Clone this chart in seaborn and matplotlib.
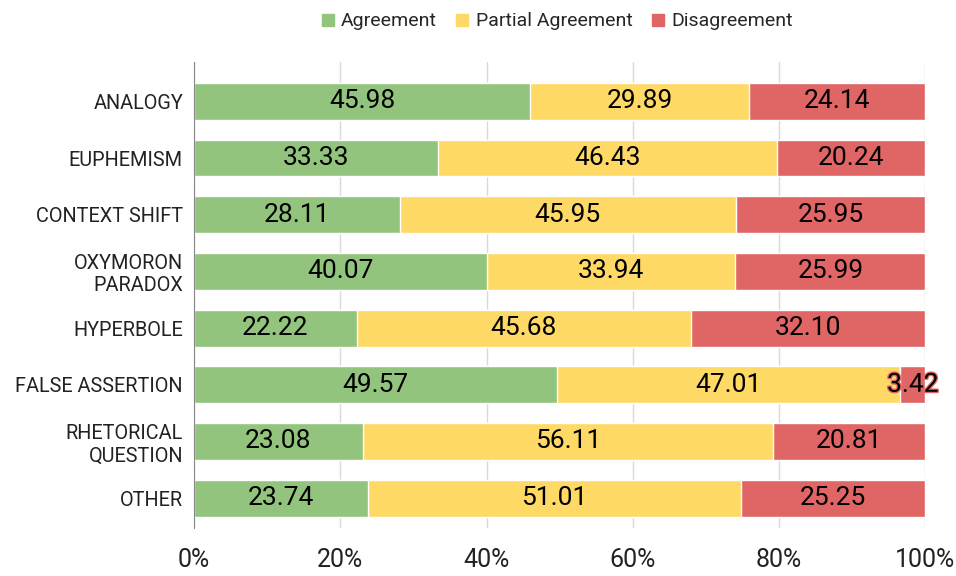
import numpy as np
import seaborn as sns
import matplotlib.pyplot as plt
import matplotlib.patheffects as pe
from matplotlib.lines import Line2D

categories = ['ANALOGY', 'EUPHEMISM', 'CONTEXT SHIFT', 'OXYMORON\nPARADOX', 'HYPERBOLE',
              'FALSE ASSERTION', 'RHETORICAL\nQUESTION', 'OTHER']
agreement = [45.98, 33.33, 28.11, 40.07, 22.22, 49.57, 23.08, 23.74]
partial = [29.89, 46.43, 45.95, 33.94, 45.68, 47.01, 56.11, 51.01]
disagreement = [24.14, 20.24, 25.95, 25.99, 32.10, 3.42, 20.81, 25.25]

series = ['Agreement', 'Partial Agreement', 'Disagreement']
colors = ['#93c47d', '#ffd966', '#e06666']

sns.set_style('white')
plt.rcParams['font.family'] = ['Roboto', 'DejaVu Sans']

a = np.array(agreement)
p = np.array(partial)
d = np.array(disagreement)
total = a + p + d

fig = plt.figure(figsize=(9.56, 5.76), dpi=100)
ax = fig.add_axes([0.203, 0.083, 0.765, 0.809])

# stacked bars: draw cumulative sums from the back
sns.barplot(x=total, y=categories, orient='h', color=colors[2], width=0.65, ax=ax, saturation=1)
sns.barplot(x=a + p, y=categories, orient='h', color=colors[1], width=0.65, ax=ax, saturation=1)
sns.barplot(x=a, y=categories, orient='h', color=colors[0], width=0.65, ax=ax, saturation=1)

for i in range(len(categories)):
    starts = [0, a[i], a[i] + p[i]]
    vals = [a[i], p[i], d[i]]
    for s, v, c in zip(starts, vals, colors):
        txt = ax.text(s + v / 2, i, f'{v:.2f}', ha='center', va='center',
                      fontsize=19, color='black')
        if v < 8:
            txt.set_path_effects([pe.withStroke(linewidth=2, foreground=c)])

ax.set_xlim(0, 100)
ax.set_ylim(7.53, -0.69)
ax.set_xticks([0, 20, 40, 60, 80, 100])
ax.set_xticklabels(['0%', '20%', '40%', '60%', '80%', '100%'])
ax.xaxis.grid(True, color='#d9d9d9', linewidth=1)
ax.set_axisbelow(True)
for s in ['top', 'right', 'bottom']:
    ax.spines[s].set_visible(False)
ax.spines['left'].set_color('#888888')
ax.tick_params(axis='x', length=0, pad=14, labelsize=18, colors='#222222')
ax.tick_params(axis='y', length=0, pad=8, labelsize=14.3, colors='#222222')
ax.set_xlabel('')
ax.set_ylabel('')

handles = [Line2D([], [], marker='s', linestyle='', color=c, markersize=8.5) for c in colors]
fig.legend(handles, series, loc='center', bbox_to_anchor=(0.582, 0.963), ncol=3,
           frameon=False, fontsize=14, handlelength=0.8, handletextpad=0.3, columnspacing=0.9)

fig.savefig('out.png', dpi=100)
